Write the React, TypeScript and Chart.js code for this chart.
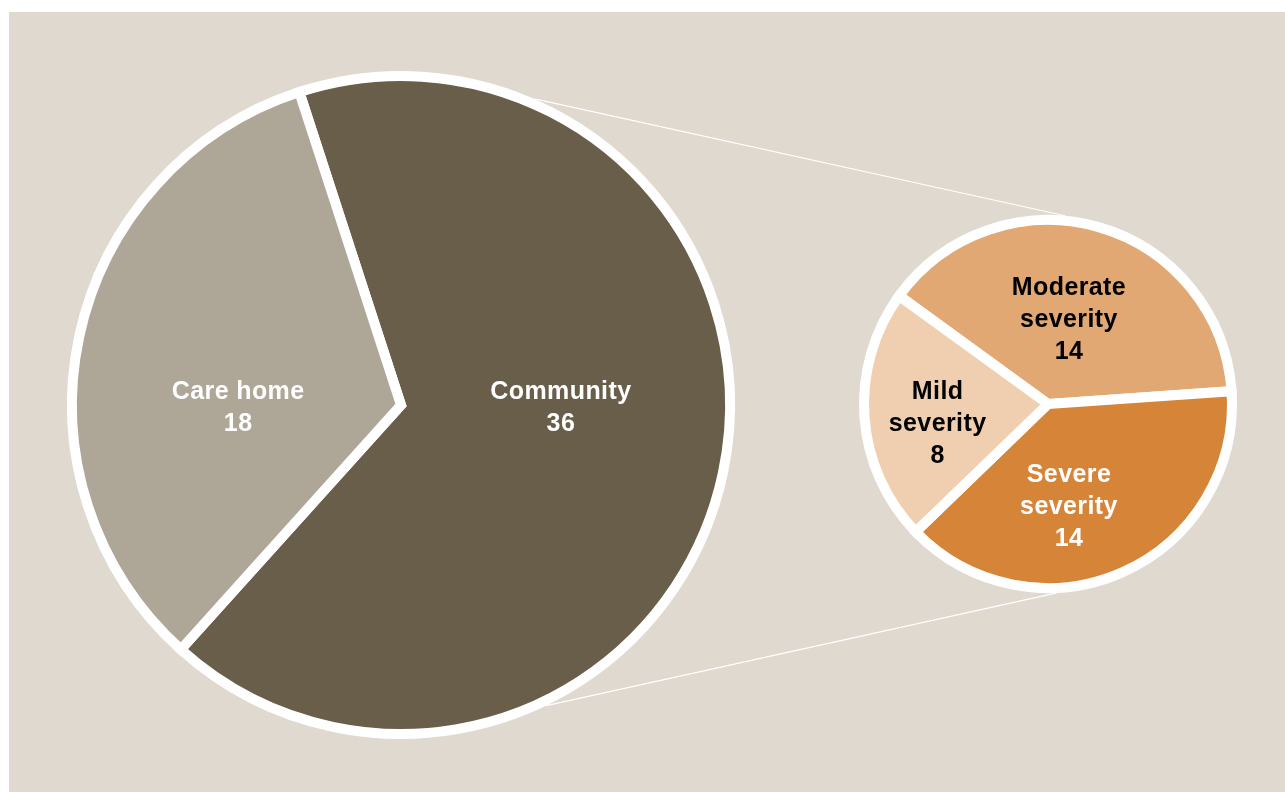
import React, { useEffect, useRef } from "react";
import { Chart, registerables } from "chart.js";

Chart.register(...registerables);

// ---- data ----
const mainCategories = ["Community", "Care home"];
const mainValues = [36, 18];
const mainLabelLines = [["Community"], ["Care home"]];

const detailCategories = ["Moderate severity", "Severe severity", "Mild severity"];
const detailValues = [14, 14, 8];
const detailLabelLines = [["Moderate", "severity"], ["Severe", "severity"], ["Mild", "severity"]];

// ---- styles ----
const W = 1276;
const H = 780;
const BG = "#DFD9CF";
const mainColors = ["#695E4A", "#AEA798"];
const mainTextColors = ["#FFFFFF", "#FFFFFF"];
const mainLabelOffsets = [[0.486, 0.008], [-0.495, 0.008]];
const detailColors = ["#E2A873", "#D68437", "#F0CFB0"];
const detailTextColors = ["#000000", "#FFFFFF", "#000000"];
const detailLabelOffsets = [[0.114, -0.455], [0.114, 0.561], [-0.6, 0.11]];
const BORDER = 10;

const sliceLabels = {
  id: "sliceLabels",
  afterDatasetsDraw(chart: any, _args: any, opts: any) {
    const ctx = chart.ctx;
    const meta = chart.getDatasetMeta(0);
    const values = chart.data.datasets[0].data;
    ctx.save();
    ctx.font = "bold 25px 'Liberation Sans', Arial, sans-serif";
    try { (ctx as any).letterSpacing = "0.4px"; } catch (e) {}
    ctx.textAlign = "center";
    ctx.textBaseline = "middle";
    meta.data.forEach((el: any, i: number) => {
      const { x, y, outerRadius } = el.getProps(["x", "y", "outerRadius"], true);
      const [fx, fy] = opts.offsets[i];
      const lines = [...opts.lines[i], String(values[i])];
      const lh = 32;
      const cx = x + fx * outerRadius;
      const cy = y + fy * outerRadius;
      ctx.fillStyle = opts.colors[i];
      lines.forEach((t: string, k: number) => {
        ctx.fillText(t, cx, cy + (k - (lines.length - 1) / 2) * lh);
      });
    });
    ctx.restore();
  },
};

export default function App() {
  const mainRef = useRef<HTMLCanvasElement>(null);
  const detailRef = useRef<HTMLCanvasElement>(null);

  useEffect(() => {
    const mainChart = new Chart(mainRef.current!, {
      type: "pie",
      data: {
        labels: mainCategories,
        datasets: [
          {
            data: mainValues,
            backgroundColor: mainColors,
            borderColor: "#FFFFFF",
            borderWidth: BORDER,
            borderJoinStyle: "miter",
          } as any,
        ],
      },
      options: {
        responsive: false,
        animation: false,
        rotation: -18,
        layout: { padding: { left: 58, top: 59, right: W - 726, bottom: H - 727 } },
        plugins: {
          legend: { display: false },
          tooltip: { enabled: false },
          sliceLabels: { offsets: mainLabelOffsets, lines: mainLabelLines, colors: mainTextColors },
        } as any,
      },
      plugins: [sliceLabels],
    });

    const connectors = {
      id: "connectors",
      beforeDatasetsDraw(chart: any) {
        const a = mainChart.getDatasetMeta(0).data[0] as any;
        const b = chart.getDatasetMeta(0).data[0] as any;
        if (!a || !b) return;
        const ra = a.outerRadius + BORDER / 2;
        const rb = b.outerRadius + BORDER / 2;
        const pt = (el: any, r: number, deg: number) => {
          const t = (deg * Math.PI) / 180;
          return [el.x + r * Math.sin(t), el.y - r * Math.cos(t)];
        };
        const pairs = [
          [pt(a, ra, 23.6), pt(b, rb, 5.2)],
          [pt(a, ra, 154.2), pt(b, rb, 177.3)],
        ];
        const ctx = chart.ctx;
        ctx.save();
        ctx.strokeStyle = "#FFFFFF";
        ctx.lineWidth = 1.2;
        pairs.forEach(([p, q]) => {
          ctx.beginPath();
          ctx.moveTo(p[0], p[1]);
          ctx.lineTo(q[0], q[1]);
          ctx.stroke();
        });
        ctx.restore();
      },
    };

    const detailChart = new Chart(detailRef.current!, {
      type: "pie",
      data: {
        labels: detailCategories,
        datasets: [
          {
            data: detailValues,
            backgroundColor: detailColors,
            borderColor: "#FFFFFF",
            borderWidth: BORDER,
            borderJoinStyle: "miter",
          } as any,
        ],
      },
      options: {
        responsive: false,
        animation: false,
        rotation: -54,
        layout: { padding: { left: 850, top: 203, right: W - 1228, bottom: H - 581 } },
        plugins: {
          legend: { display: false },
          tooltip: { enabled: false },
          sliceLabels: { offsets: detailLabelOffsets, lines: detailLabelLines, colors: detailTextColors },
        } as any,
      },
      plugins: [sliceLabels, connectors],
    });

    return () => {
      detailChart.destroy();
      mainChart.destroy();
    };
  }, []);

  const canvasStyle: React.CSSProperties = {
    position: "absolute",
    left: 0,
    top: 0,
    width: W,
    height: H,
  };

  return (
    <div
      style={{
        position: "absolute",
        left: 9,
        top: 12,
        width: W,
        height: H,
        background: BG,
        overflow: "hidden",
      }}
    >
      <canvas ref={mainRef} width={W} height={H} style={canvasStyle} />
      <canvas ref={detailRef} width={W} height={H} style={canvasStyle} />
    </div>
  );
}
